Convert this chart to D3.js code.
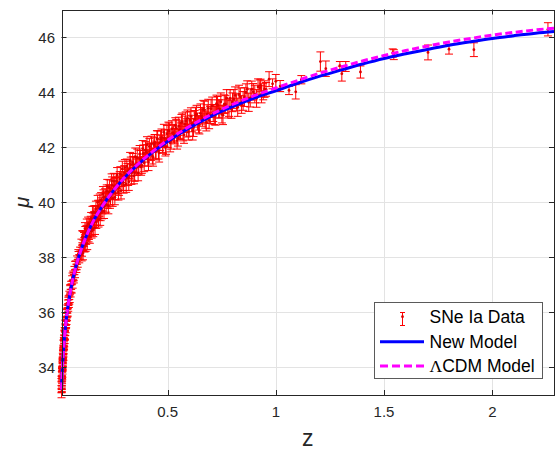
<!DOCTYPE html>
<html>
<head>
<meta charset="utf-8">
<script src="https://cdn.jsdelivr.net/npm/d3@7"></script>
<style>
body { margin: 0; background: #fff; }
text { font-family: "Liberation Sans", Arial, Helvetica, sans-serif; }
</style>
</head>
<body>
<script>
// SNe Ia data: redshift, distance modulus, error
var zData = [
    0.0101, 0.0103, 0.0106, 0.0109, 0.0112, 0.0114, 0.0118, 0.0121, 0.0124, 0.0127,
    0.0131, 0.0134, 0.0138, 0.0141, 0.0145, 0.0149, 0.0153, 0.0157, 0.0161, 0.0165,
    0.0170, 0.0174, 0.0179, 0.0184, 0.0189, 0.0194, 0.0199, 0.0205, 0.0211, 0.0217,
    0.0223, 0.0230, 0.0237, 0.0244, 0.0251, 0.0259, 0.0267, 0.0275, 0.0284, 0.0293,
    0.0302, 0.0312, 0.0322, 0.0333, 0.0345, 0.0357, 0.0370, 0.0383, 0.0397, 0.0412,
    0.0428, 0.0445, 0.0463, 0.0482, 0.0502, 0.0523, 0.0545, 0.0568, 0.0592, 0.0617,
    0.0643, 0.0670, 0.0698, 0.0727, 0.0757, 0.0788, 0.0820, 0.0853, 0.0887, 0.0922,
    0.0958,
    0.102, 0.105, 0.108, 0.111, 0.114, 0.117, 0.120, 0.124, 0.127, 0.131,
    0.135, 0.139, 0.143, 0.147, 0.151, 0.155, 0.159, 0.163, 0.167, 0.171,
    0.175, 0.179, 0.183, 0.187, 0.191, 0.195, 0.199, 0.204, 0.209, 0.214,
    0.219, 0.224, 0.229, 0.234, 0.239, 0.244, 0.249, 0.254, 0.259, 0.264,
    0.270, 0.276, 0.282, 0.288, 0.294, 0.300, 0.306, 0.312, 0.318, 0.324,
    0.330, 0.336, 0.342, 0.348, 0.354, 0.360, 0.367, 0.374, 0.381, 0.388,
    0.395,
    0.402, 0.409, 0.416, 0.423, 0.430, 0.437, 0.444, 0.451, 0.458, 0.465,
    0.472, 0.479, 0.486, 0.493, 0.500, 0.508, 0.516, 0.524, 0.532, 0.540,
    0.548, 0.556, 0.564, 0.572, 0.580, 0.588, 0.596, 0.604, 0.612, 0.620,
    0.629, 0.638, 0.647, 0.656, 0.665, 0.674, 0.683, 0.692, 0.701, 0.711,
    0.721, 0.731, 0.741, 0.751, 0.762, 0.773, 0.784, 0.795, 0.806, 0.818,
    0.830, 0.842, 0.855, 0.868, 0.882, 0.896, 0.911, 0.926, 0.942,
    0.930, 0.955, 0.969, 0.985, 1.000, 1.020, 1.061, 1.092, 1.118,
    1.206, 1.231, 1.296, 1.305, 1.323, 1.391, 1.540, 1.545, 1.703, 1.800,
    1.915, 2.257,
    0.0108, 0.0116, 0.0126, 0.0136, 0.0147, 0.0159, 0.0172, 0.0186, 0.0201, 0.0219,
    0.0240, 0.0262, 0.0287, 0.0315, 0.0346, 0.0380, 0.0418, 0.0460, 0.0506, 0.0556,
    0.0610, 0.0670, 0.0735, 0.0805, 0.0880, 0.0965,
    0.1035, 0.1065, 0.1095, 0.1125, 0.1155, 0.1185, 0.122, 0.1255, 0.129, 0.133,
    0.137, 0.141, 0.145, 0.149, 0.153, 0.157, 0.161, 0.165, 0.169, 0.173,
    0.177, 0.181, 0.185, 0.189, 0.193, 0.197, 0.2015, 0.2065, 0.2115, 0.2165,
    0.2215, 0.2265, 0.2315, 0.2365, 0.2415, 0.2465, 0.2515, 0.2565, 0.2615, 0.267,
    0.273, 0.279, 0.285, 0.291, 0.297, 0.303, 0.309, 0.315, 0.321, 0.327,
    0.333, 0.339, 0.345, 0.351, 0.357, 0.364, 0.371, 0.378, 0.385, 0.392,
    0.398,
    0.405, 0.412, 0.419, 0.426, 0.433, 0.440, 0.447, 0.454, 0.461, 0.468,
    0.476, 0.483, 0.490, 0.497, 0.504, 0.512, 0.520, 0.528, 0.536, 0.544,
    0.552, 0.560, 0.568, 0.576, 0.584, 0.592, 0.600, 0.608, 0.616, 0.625,
    0.634, 0.643, 0.652, 0.661, 0.670, 0.679, 0.688, 0.697, 0.706, 0.716,
    0.726, 0.736, 0.746, 0.756, 0.767, 0.778, 0.789, 0.800, 0.812, 0.824,
    0.836, 0.849, 0.862, 0.875, 0.889, 0.903, 0.918, 0.934, 0.948
];
var muData = [
    33.28, 33.12, 33.41, 33.30, 33.52, 33.36, 33.66, 33.49, 33.78, 33.62,
    33.85, 33.70, 34.02, 33.84, 34.10, 33.95, 34.22, 34.05, 34.35, 34.20,
    34.44, 34.30, 34.58, 34.42, 34.66, 34.55, 34.82, 34.64, 34.93, 34.78,
    35.02, 34.90, 35.17, 35.02, 35.30, 35.15, 35.43, 35.30, 35.55, 35.40,
    35.68, 35.55, 35.82, 35.70, 35.98, 35.85, 36.12, 35.98, 36.30, 36.18,
    36.45, 36.32, 36.62, 36.50, 36.82, 36.70, 36.98, 36.85, 37.18, 37.02,
    37.35, 37.22, 37.52, 37.40, 37.72, 37.60, 37.90, 37.78, 38.06, 37.95,
    38.22,
    38.44, 38.24, 38.71, 38.44, 38.65, 38.41, 38.89, 38.67, 39.13, 38.89,
    38.80, 39.19, 39.06, 39.41, 39.03, 39.35, 39.63, 39.29, 39.61, 39.28,
    39.61, 39.85, 39.60, 40.06, 39.61, 39.93, 39.83, 40.18, 39.85, 40.12,
    40.40, 40.06, 40.38, 40.05, 40.35, 40.63, 40.36, 40.59, 40.34, 40.77,
    40.62, 40.51, 41.01, 40.84, 40.72, 41.07, 40.90, 41.30, 40.89, 41.18,
    41.37, 41.09, 41.38, 41.06, 41.36, 41.62, 41.30, 41.58, 41.34, 41.77,
    41.60,
    41.82, 41.61, 42.03, 41.83, 41.68, 42.09, 41.90, 42.31, 41.87, 42.16,
    42.35, 42.07, 42.33, 42.02, 42.31, 42.59, 42.24, 42.52, 42.40, 42.70,
    42.34, 42.64, 42.90, 42.54, 42.83, 42.70, 42.55, 42.98, 42.86, 42.71,
    43.15, 42.93, 42.81, 43.14, 43.38, 43.00, 43.21, 42.97, 43.40, 43.24,
    43.14, 43.53, 43.39, 43.20, 43.56, 43.78, 43.45, 43.37, 43.75, 43.63,
    43.92, 43.55, 43.82, 44.10, 43.79, 44.01, 43.77, 44.16, 44.02,
    44.25, 44.10, 44.47, 44.30, 44.39, 44.22, 44.06, 44.01, 44.45,
    45.11, 44.85, 44.96, 44.67, 44.93, 44.73, 45.42, 45.36, 45.44, 45.56,
    45.54, 46.28,
    33.45, 33.40, 33.80, 33.78, 34.15, 34.10, 34.50, 34.45, 34.84, 34.82,
    35.20, 35.18, 35.58, 35.60, 35.95, 36.02, 36.40, 36.45, 36.86, 36.88,
    37.28, 37.30, 37.70, 37.70, 38.13, 38.08,
    38.11, 38.75, 38.16, 38.72, 38.46, 39.04, 38.46, 38.89, 38.51, 39.21,
    38.93, 38.75, 39.23, 38.95, 39.62, 39.02, 39.41, 39.07, 39.76, 39.43,
    40.00, 39.37, 39.78, 39.41, 40.08, 39.66, 40.29, 39.67, 40.20, 39.91,
    40.57, 39.87, 40.54, 40.20, 40.77, 40.14, 40.77, 40.18, 40.60, 40.98,
    40.37, 40.84, 40.42, 41.21, 40.64, 41.26, 40.66, 41.13, 40.74, 41.52,
    40.95, 41.45, 40.96, 41.66, 41.27, 41.06, 41.75, 41.28, 41.95, 41.43,
    41.90,
    42.09, 41.46, 41.85, 42.12, 41.63, 42.16, 41.85, 42.30, 41.79, 42.29,
    42.12, 42.54, 41.99, 42.49, 42.60, 42.16, 42.66, 42.48, 42.78, 42.24,
    42.76, 42.58, 42.92, 42.45, 42.95, 43.05, 42.72, 43.12, 42.59, 43.03,
    43.20, 42.83, 43.23, 43.06, 43.35, 42.90, 43.41, 43.17, 43.50, 43.16,
    43.58, 43.39, 43.65, 43.16, 43.56, 43.39, 43.77, 43.63, 43.88, 43.45,
    43.83, 43.68, 43.99, 43.63, 44.10, 43.93, 44.19, 43.92, 44.11
];
var errData = [
    0.20, 0.22, 0.19, 0.21, 0.18, 0.23, 0.19, 0.20, 0.18, 0.21,
    0.17, 0.19, 0.18, 0.20, 0.17, 0.19, 0.16, 0.18, 0.17, 0.16,
    0.18, 0.17, 0.16, 0.17, 0.15, 0.17, 0.16, 0.15, 0.16, 0.15,
    0.16, 0.15, 0.16, 0.15, 0.15, 0.16, 0.15, 0.14, 0.15, 0.14,
    0.15, 0.14, 0.15, 0.14, 0.15, 0.14, 0.15, 0.14, 0.15, 0.14,
    0.15, 0.14, 0.15, 0.14, 0.15, 0.14, 0.15, 0.15, 0.15, 0.14,
    0.15, 0.15, 0.15, 0.14, 0.15, 0.15, 0.15, 0.14, 0.15, 0.15,
    0.15,
    0.22, 0.20, 0.24, 0.19, 0.25, 0.21, 0.23, 0.20, 0.26, 0.22,
    0.24, 0.21, 0.25, 0.22, 0.23, 0.26, 0.24, 0.21, 0.27, 0.23,
    0.25, 0.22, 0.26, 0.24, 0.28, 0.23, 0.25, 0.27, 0.24, 0.26,
    0.23, 0.28, 0.25, 0.27, 0.24, 0.29, 0.26, 0.28, 0.25, 0.27,
    0.30, 0.26, 0.28, 0.27, 0.29, 0.26, 0.30, 0.27, 0.28, 0.31,
    0.27, 0.29, 0.28, 0.30, 0.27, 0.31, 0.28, 0.30, 0.29, 0.31,
    0.28,
    0.27, 0.30, 0.28, 0.31, 0.29, 0.27, 0.32, 0.29, 0.30, 0.28,
    0.31, 0.29, 0.30, 0.28, 0.32, 0.29, 0.31, 0.30, 0.28, 0.31,
    0.30, 0.32, 0.29, 0.31, 0.30, 0.33, 0.29, 0.31, 0.30, 0.32,
    0.30, 0.31, 0.33, 0.30, 0.32, 0.31, 0.33, 0.30, 0.32, 0.31,
    0.34, 0.31, 0.33, 0.32, 0.34, 0.31, 0.33, 0.32, 0.34, 0.31,
    0.33, 0.32, 0.34, 0.31, 0.33, 0.30, 0.32, 0.28, 0.30,
    0.22, 0.25, 0.27, 0.18, 0.25, 0.20, 0.15, 0.26, 0.15,
    0.35, 0.28, 0.15, 0.27, 0.18, 0.22, 0.15, 0.18, 0.27, 0.18,
    0.25, 0.24,
    0.22, 0.20, 0.19, 0.21, 0.18, 0.19, 0.17, 0.18, 0.17, 0.16,
    0.16, 0.16, 0.15, 0.15, 0.15, 0.15, 0.15, 0.15, 0.15, 0.15,
    0.15, 0.15, 0.15, 0.15, 0.15, 0.15,
    0.24, 0.22, 0.25, 0.23, 0.26, 0.22, 0.24, 0.27, 0.23, 0.25,
    0.28, 0.24, 0.26, 0.25, 0.23, 0.27, 0.25, 0.24, 0.28, 0.26,
    0.25, 0.27, 0.29, 0.25, 0.27, 0.26, 0.28, 0.26, 0.29, 0.27,
    0.26, 0.29, 0.27, 0.30, 0.26, 0.29, 0.28, 0.27, 0.30, 0.28,
    0.29, 0.27, 0.30, 0.28, 0.31, 0.29, 0.30, 0.28, 0.31, 0.29,
    0.30, 0.32, 0.29, 0.31, 0.30, 0.28, 0.31, 0.30, 0.29, 0.32,
    0.30,
    0.29, 0.31, 0.30, 0.28, 0.32, 0.30, 0.31, 0.29, 0.33, 0.30,
    0.32, 0.29, 0.31, 0.30, 0.31, 0.33, 0.30, 0.32, 0.29, 0.31,
    0.33, 0.30, 0.32, 0.31, 0.33, 0.30, 0.32, 0.31, 0.33, 0.30,
    0.32, 0.31, 0.34, 0.30, 0.32, 0.31, 0.33, 0.31, 0.32, 0.34,
    0.31, 0.33, 0.32, 0.34, 0.31, 0.33, 0.32, 0.34, 0.31, 0.33,
    0.32, 0.34, 0.31, 0.33, 0.30, 0.32, 0.29, 0.31, 0.30
];

// model curves
var modelZ = [0.0101, 0.012, 0.014, 0.016, 0.018, 0.02, 0.025, 0.03, 0.035, 0.04,
    0.05, 0.06, 0.07, 0.08, 0.09, 0.1, 0.12, 0.14, 0.16, 0.18,
    0.2, 0.25, 0.3, 0.35, 0.4, 0.45, 0.5, 0.6, 0.7, 0.8,
    0.9, 1.0, 1.1, 1.2, 1.3, 1.4, 1.5, 1.6, 1.7, 1.8,
    1.9, 2.0, 2.1, 2.2, 2.285];
var newModelMu = [33.20, 33.59, 33.93, 34.22, 34.48, 34.71, 35.20, 35.60, 35.94, 36.23,
    36.71, 37.12, 37.46, 37.76, 38.02, 38.26, 38.68, 39.04, 39.36, 39.63,
    39.88, 40.42, 40.88, 41.27, 41.62, 41.93, 42.21, 42.70, 43.12, 43.47,
    43.78, 44.05, 44.32, 44.57, 44.80, 45.02, 45.22, 45.39, 45.55, 45.70,
    45.83, 45.95, 46.05, 46.14, 46.20];
var lcdmMu = [33.20, 33.59, 33.93, 34.22, 34.48, 34.71, 35.20, 35.60, 35.94, 36.23,
    36.71, 37.12, 37.46, 37.76, 38.02, 38.26, 38.68, 39.04, 39.36, 39.63,
    39.88, 40.42, 40.89, 41.29, 41.64, 41.96, 42.25, 42.75, 43.18, 43.55,
    43.87, 44.15, 44.42, 44.68, 44.91, 45.13, 45.33, 45.51, 45.67, 45.82,
    45.95, 46.07, 46.17, 46.26, 46.32];

var xTicks = [0.5, 1, 1.5, 2];
var yTicks = [34, 36, 38, 40, 42, 44, 46];
var legendLabels = ["SNe Ia Data", "New Model", "CDM Model"];

var W = 555, H = 450;
var plotL = 61.5, plotR = 554, plotT = 9.5, plotB = 395;
var axisColor = "#262626";

var x = d3.scaleLinear().domain([0.0101, 2.285]).range([plotL, plotR]);
var y = d3.scaleLinear().domain([33, 47]).range([plotB, plotT]);

var svg = d3.select("body").append("svg")
    .attr("width", W)
    .attr("height", H);

svg.append("rect").attr("width", W).attr("height", H).attr("fill", "#fff");

// grid
var grid = svg.append("g").attr("stroke", "#e3e3e3").attr("stroke-width", 1);
grid.selectAll(".gx").data(xTicks).enter().append("line")
    .attr("x1", function (d) { return Math.round(x(d)) + 0.5; })
    .attr("x2", function (d) { return Math.round(x(d)) + 0.5; })
    .attr("y1", plotT).attr("y2", plotB);
grid.selectAll(".gy").data(yTicks).enter().append("line")
    .attr("y1", function (d) { return Math.round(y(d)) + 0.5; })
    .attr("y2", function (d) { return Math.round(y(d)) + 0.5; })
    .attr("x1", plotL).attr("x2", plotR);

// error bars
var pts = zData.map(function (z, i) { return { z: z, mu: muData[i], err: errData[i] }; });
var bars = svg.append("g").attr("stroke", "#ff0000").attr("stroke-width", 1);
bars.selectAll(".eb").data(pts).enter().append("path")
    .attr("fill", "none")
    .attr("d", function (d) {
        var cx = x(d.z), y0 = y(d.mu - d.err), y1 = y(d.mu + d.err), c = 4;
        return "M" + cx + "," + y0 + "V" + y1 +
            "M" + (cx - c) + "," + y0 + "H" + (cx + c) +
            "M" + (cx - c) + "," + y1 + "H" + (cx + c);
    });
svg.append("g").selectAll("circle").data(pts).enter().append("circle")
    .attr("cx", function (d) { return x(d.z); })
    .attr("cy", function (d) { return y(d.mu); })
    .attr("r", 1.4)
    .attr("fill", "#e00000");

// model lines
var modelPts = modelZ.map(function (z, i) { return { z: z, a: newModelMu[i], b: lcdmMu[i] }; });
var lineA = d3.line().curve(d3.curveMonotoneX)
    .x(function (d) { return x(d.z); })
    .y(function (d) { return y(d.a); });
var lineB = d3.line().curve(d3.curveMonotoneX)
    .x(function (d) { return x(d.z); })
    .y(function (d) { return y(d.b); });
svg.append("path").datum(modelPts)
    .attr("d", lineA)
    .attr("fill", "none")
    .attr("stroke", "#0000ff")
    .attr("stroke-width", 3);
svg.append("path").datum(modelPts)
    .attr("d", lineB)
    .attr("fill", "none")
    .attr("stroke", "#ff00ff")
    .attr("stroke-width", 3)
    .attr("stroke-dasharray", "7,3.5");

// axes box and ticks (inward, all four sides)
var ax = svg.append("g").attr("stroke", axisColor).attr("stroke-width", 1).attr("fill", "none");
ax.append("rect")
    .attr("x", Math.round(plotL) + 0.5).attr("y", Math.round(plotT) + 0.5)
    .attr("width", Math.round(plotR) - Math.round(plotL))
    .attr("height", Math.round(plotB) - Math.round(plotT));
xTicks.forEach(function (t) {
    var px = Math.round(x(t)) + 0.5;
    ax.append("line").attr("x1", px).attr("x2", px).attr("y1", plotB).attr("y2", plotB - 5);
    ax.append("line").attr("x1", px).attr("x2", px).attr("y1", plotT).attr("y2", plotT + 5);
});
yTicks.forEach(function (t) {
    var py = Math.round(y(t)) + 0.5;
    ax.append("line").attr("y1", py).attr("y2", py).attr("x1", plotL).attr("x2", plotL + 5);
    ax.append("line").attr("y1", py).attr("y2", py).attr("x1", plotR).attr("x2", plotR - 5);
});

svg.append("g").selectAll("text").data(xTicks).enter().append("text")
    .attr("x", function (d) { return x(d); })
    .attr("y", 417)
    .attr("text-anchor", "middle")
    .attr("font-size", 15)
    .attr("fill", axisColor)
    .text(function (d) { return d; });
svg.append("g").selectAll("text").data(yTicks).enter().append("text")
    .attr("x", 55)
    .attr("y", function (d) { return y(d) + 5.5; })
    .attr("text-anchor", "end")
    .attr("font-size", 15)
    .attr("fill", axisColor)
    .text(function (d) { return d; });

// axis labels
svg.append("text")
    .attr("x", (plotL + plotR) / 2)
    .attr("y", 446)
    .attr("text-anchor", "middle")
    .attr("font-size", 23)
    .attr("fill", axisColor)
    .text("z");
svg.append("text")
    .attr("transform", "translate(29," + ((plotT + plotB) / 2) + ") rotate(-90)")
    .attr("text-anchor", "middle")
    .attr("font-family", "'Liberation Serif', 'Times New Roman', serif")
    .attr("font-style", "italic")
    .attr("font-size", 20)
    .attr("fill", axisColor)
    .text("μ");

// legend
var lg = svg.append("g");
lg.append("rect")
    .attr("x", 374.5).attr("y", 302.5)
    .attr("width", 168).attr("height", 76)
    .attr("fill", "#fff")
    .attr("stroke", "#5a5a5a")
    .attr("stroke-width", 1);
var rowY = [316.7, 341.7, 366];
lg.append("path")
    .attr("d", "M402.5,312.5V325.5M400,312.5H405M400,325.5H405")
    .attr("stroke", "#ff0000").attr("fill", "none");
lg.append("circle").attr("cx", 402.5).attr("cy", rowY[0]).attr("r", 1.4).attr("fill", "#e00000");
lg.append("line")
    .attr("x1", 380).attr("x2", 424)
    .attr("y1", rowY[1]).attr("y2", rowY[1])
    .attr("stroke", "#0000ff").attr("stroke-width", 3);
lg.append("line")
    .attr("x1", 380).attr("x2", 424)
    .attr("y1", rowY[2]).attr("y2", rowY[2])
    .attr("stroke", "#ff00ff").attr("stroke-width", 3)
    .attr("stroke-dasharray", "8,4");
lg.selectAll(".lt").data(legendLabels).enter().append("text")
    .attr("x", 429.5)
    .attr("y", function (d, i) { return rowY[i] + 6.3; })
    .attr("font-size", 17.5)
    .attr("fill", "#000")
    .each(function (d, i) {
        var t = d3.select(this);
        if (i === 2) {
            t.append("tspan").attr("font-family", "'Liberation Serif', 'Times New Roman', serif").text("Λ");
            t.append("tspan").text(d);
        } else {
            t.text(d);
        }
    });
</script>
</body>
</html>
